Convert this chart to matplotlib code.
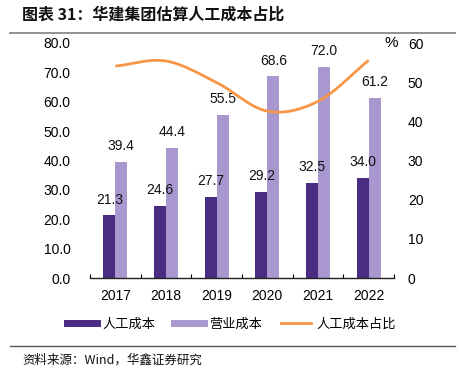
import numpy as np
import matplotlib
matplotlib.use("Agg")
import matplotlib.pyplot as plt
from matplotlib.lines import Line2D

plt.rcParams['font.family'] = ['Liberation Sans', 'Noto Sans CJK SC', 'DejaVu Sans']

years = ["2017", "2018", "2019", "2020", "2021", "2022"]
labor_cost = [21.3, 24.6, 27.7, 29.2, 32.5, 34.0]
operating_cost = [39.4, 44.4, 55.5, 68.6, 72.0, 61.2]
labor_ratio = [54.1, 55.4, 49.9, 42.6, 45.1, 55.6]

left_ticks = [0, 10, 20, 30, 40, 50, 60, 70, 80]
right_ticks = [0, 10, 20, 30, 40, 50, 60]

c_dark = "#4B2C83"
c_light = "#A898CF"
c_orange = "#F79646"

W, H = 463, 377
fig = plt.figure(figsize=(W / 100, H / 100), dpi=100)

ax = fig.add_axes([90 / W, 1 - 278 / H, 304 / W, 235 / H])
ax2 = ax.twinx()

x = np.arange(len(years))
bw = 0.235
ax.bar(x - bw / 2, labor_cost, width=bw, color=c_dark, zorder=2)
ax.bar(x + bw / 2, operating_cost, width=bw, color=c_light, zorder=2)

fs = 10
for xi, v in zip(x - bw / 2, labor_cost):
    ax.text(xi, v + 3.0, f"{v:.1f}", ha="center", va="bottom", fontsize=fs, color="#111111")
for xi, v in zip(x + bw / 2, operating_cost):
    ax.text(xi, v + 3.0, f"{v:.1f}", ha="center", va="bottom", fontsize=fs, color="#111111")

ax.set_ylim(0, 80)
ax.set_yticks(left_ticks)
ax.set_yticklabels([f"{t:.1f}" for t in left_ticks], fontsize=fs)
ax.set_xlim(-0.5, len(years) - 0.5)
ax.set_xticks(x)
ax.set_xticklabels(years, fontsize=fs)
ax.set_xticks(np.arange(-0.5, len(years)), minor=True)
ax.tick_params(axis="x", which="major", length=0, pad=8)
ax.tick_params(axis="x", which="minor", length=3, direction="in", width=0.8)
ax.tick_params(axis="y", length=0, pad=14)
for s in ["top", "right", "left"]:
    ax.spines[s].set_visible(False)
ax.spines["bottom"].set_color("#222222")
ax.spines["bottom"].set_linewidth(1.0)


def catmull_rom(xs, ys, n=30):
    xs = np.asarray(xs, float)
    ys = np.asarray(ys, float)
    px = np.concatenate([[2 * xs[0] - xs[1]], xs, [2 * xs[-1] - xs[-2]]])
    py = np.concatenate([[2 * ys[0] - ys[1]], ys, [2 * ys[-1] - ys[-2]]])
    ox, oy = [], []
    for i in range(1, len(px) - 2):
        t = np.linspace(0, 1, n, endpoint=False)
        for arr, out in ((px, ox), (py, oy)):
            p0, p1, p2, p3 = arr[i - 1], arr[i], arr[i + 1], arr[i + 2]
            out.extend(0.5 * (2 * p1 + (-p0 + p2) * t + (2 * p0 - 5 * p1 + 4 * p2 - p3) * t ** 2
                              + (-p0 + 3 * p1 - 3 * p2 + p3) * t ** 3))
    ox.append(xs[-1])
    oy.append(ys[-1])
    return np.array(ox), np.array(oy)


sx, sy = catmull_rom(x, labor_ratio)
ax2.plot(sx, sy, color=c_orange, lw=2.0, solid_capstyle="butt", zorder=3)
ax2.set_ylim(0, 60)
ax2.set_yticks(right_ticks)
ax2.set_yticklabels([str(t) for t in right_ticks], fontsize=fs)
ax2.tick_params(axis="y", length=0, pad=10)
for s in ["top", "right", "left", "bottom"]:
    ax2.spines[s].set_visible(False)
fig.text(398 / W, 1 - 43 / H, "%", ha="right", va="center", fontsize=fs + 1)

# title and rules
fig.text(22 / W, 1 - 15 / H, "图表 31：华建集团估算人工成本占比", fontsize=11.5, fontweight="bold",
         family=["Noto Sans CJK SC"], ha="left", va="center", color="#111111")
fig.add_artist(Line2D([10 / W, 455 / W], [1 - 33 / H, 1 - 33 / H], color="#888888", lw=1.3))
fig.add_artist(Line2D([10 / W, 455 / W], [1 - 346 / H, 1 - 346 / H], color="#555555", lw=1.0))
fig.text(22 / W, 1 - 360 / H, "资料来源：Wind，华鑫证券研究", fontsize=9,
         family=["Noto Sans CJK SC"], ha="left", va="center", color="#111111")

handles = [Line2D([], [], color=c_dark, lw=5),
           Line2D([], [], color=c_light, lw=5),
           Line2D([], [], color=c_orange, lw=2.0)]
labels = ["人工成本", "营业成本", "人工成本占比"]
fig.legend(handles, labels, loc="center", bbox_to_anchor=(0.5, 1 - 324 / H), ncol=3, frameon=False,
           prop={"family": "Noto Sans CJK SC", "size": 9.5}, handlelength=2.3, columnspacing=1.4,
           handletextpad=0.4)

fig.savefig("out.png", dpi=100)
